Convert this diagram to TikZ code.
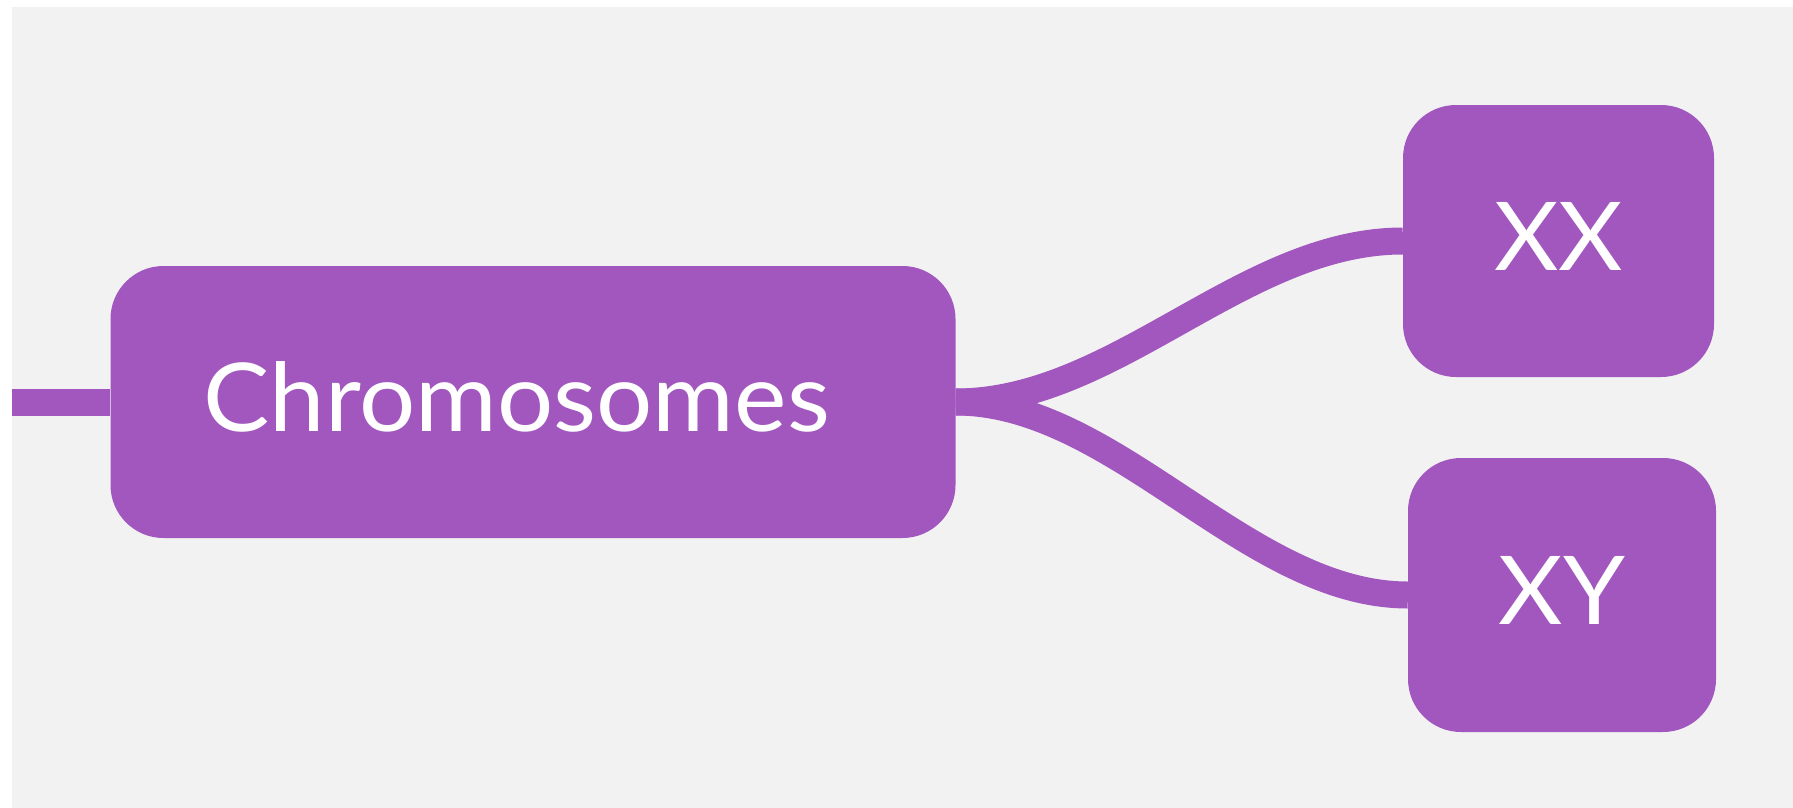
\documentclass[tikz,border=0pt]{standalone}
\usepackage{fontspec}
\setmainfont{Lato}[FakeStretch=1.045]
\pgfdeclarelayer{background}
\pgfdeclarelayer{canvas}
\pgfsetlayers{canvas,background,main}
\definecolor{panelgray}{HTML}{F2F2F2}
\definecolor{mindpurple}{HTML}{A257BF}
\tikzset{
  topicbox/.style={fill=mindpurple, draw=none, rounded corners=53pt,
    text=white, font=\fontsize{95}{100}\selectfont,
    text height=68pt, text depth=9pt, inner ysep=0pt},
  branch/.style={draw=mindpurple, line width=27pt}
}
\begin{document}
\begin{tikzpicture}[x=1pt, y=-1pt]
  \useasboundingbox (0,0) rectangle (1793,808);
  \begin{pgfonlayer}{canvas}
    \fill[white] (0,0) rectangle (1793,808);
    \fill[panelgray] (12,7) rectangle (1793,808);
  \end{pgfonlayer}

  % central topic and its two subtopics
  \node[topicbox, minimum height=272pt, text width=659pt, inner xsep=93pt,
        align=left] (chr) at (533,402) {Chromosomes};
  \node[topicbox, minimum width=311pt, minimum height=272pt] (xx) at (1558.5,241) {XX};
  \node[topicbox, minimum width=308pt, minimum height=274pt] (xy) at (1562,595) {XY};

  % incoming line and branches, drawn behind the boxes
  \coordinate (lend) at (12,402);
  \begin{pgfonlayer}{background}
    \draw[branch] (lend) -- (chr.west);
    \draw[branch] (chr.east) .. controls +(160,0) and +(-160,0) .. (xx.west);
    \draw[branch] (chr.east) .. controls +(160,0) and +(-160,0) .. (xy.west);
  \end{pgfonlayer}
\end{tikzpicture}
\end{document}
